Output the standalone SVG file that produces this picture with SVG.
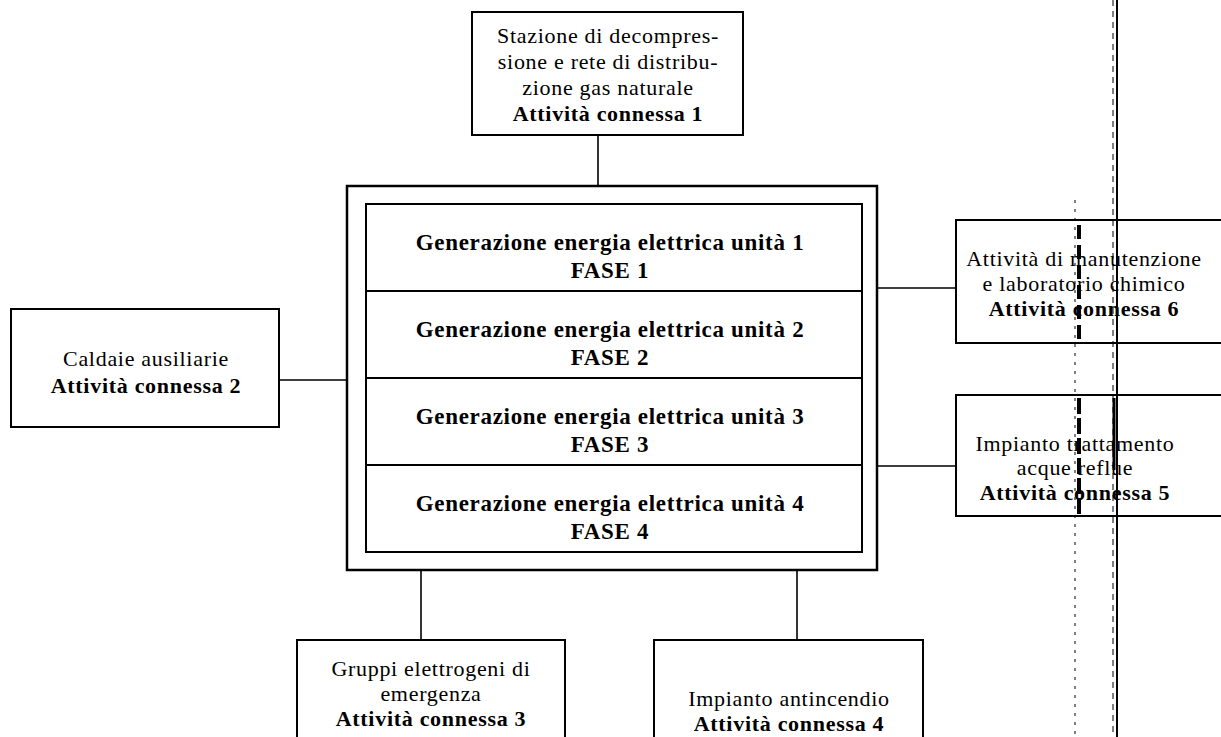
<svg xmlns="http://www.w3.org/2000/svg" width="1221" height="737" viewBox="0 0 1221 737">
<style>
.box{fill:#fff;stroke:#000;stroke-width:2}
.outer{fill:#fff;stroke:#000;stroke-width:2.5}
.conn{stroke:#000;stroke-width:1.6;fill:none}
.t{font-family:"Liberation Serif","Times New Roman","DejaVu Serif",serif;font-size:22px;letter-spacing:0.7px;fill:#000;text-anchor:middle}
.b{font-weight:bold}
.big{font-size:23px;font-weight:bold}
.art{stroke:#000;fill:none}
</style>
<rect width="1221" height="737" fill="#fff"/>
<g id="connectors">
<line class="conn" x1="598" y1="135" x2="598" y2="186"/>
<line class="conn" x1="279" y1="380" x2="347" y2="380"/>
<line class="conn" x1="877" y1="288" x2="956" y2="288"/>
<line class="conn" x1="877" y1="466" x2="956" y2="466"/>
<line class="conn" x1="421" y1="570" x2="421" y2="640"/>
<line class="conn" x1="797" y1="570" x2="797" y2="640"/>
</g>
<g id="node-1">
<rect class="box" x="472" y="12" width="271" height="123"/>
<text class="t" x="608" y="43">Stazione di decompres-</text>
<text class="t" x="608" y="69">sione e rete di distribu-</text>
<text class="t" x="608" y="95">zione gas naturale</text>
<text class="t b" x="608" y="121">Attività connessa 1</text>
</g>
<g id="central">
<rect class="outer" x="347" y="186" width="530" height="384"/>
<g id="fase-1">
<rect class="box" x="366" y="204" width="496" height="87"/>
<text class="t big" x="610" y="250">Generazione energia elettrica unità 1</text>
<text class="t big" x="610" y="278">FASE 1</text>
</g>
<g id="fase-2">
<rect class="box" x="366" y="291" width="496" height="87"/>
<text class="t big" x="610" y="337">Generazione energia elettrica unità 2</text>
<text class="t big" x="610" y="365">FASE 2</text>
</g>
<g id="fase-3">
<rect class="box" x="366" y="378" width="496" height="87"/>
<text class="t big" x="610" y="424">Generazione energia elettrica unità 3</text>
<text class="t big" x="610" y="452">FASE 3</text>
</g>
<g id="fase-4">
<rect class="box" x="366" y="465" width="496" height="87"/>
<text class="t big" x="610" y="511">Generazione energia elettrica unità 4</text>
<text class="t big" x="610" y="539">FASE 4</text>
</g>
</g>
<g id="node-2">
<rect class="box" x="11" y="309" width="268" height="118"/>
<text class="t" x="146" y="366">Caldaie ausiliarie</text>
<text class="t b" x="146" y="393">Attività connessa 2</text>
</g>
<g id="node-6">
<rect class="box" x="956" y="220" width="280" height="123"/>
<text class="t" x="1084" y="266">Attività di manutenzione</text>
<text class="t" x="1084" y="291">e laboratorio chimico</text>
<text class="t b" x="1084" y="316">Attività connessa 6</text>
</g>
<g id="node-5">
<rect class="box" x="956" y="395" width="280" height="121"/>
<text class="t" x="1075" y="451">Impianto trattamento</text>
<text class="t" x="1075" y="475">acque reflue</text>
<text class="t b" x="1075" y="500">Attività connessa 5</text>
</g>
<g id="node-3">
<rect class="box" x="297" y="640" width="268" height="110"/>
<text class="t" x="431" y="676">Gruppi elettrogeni di</text>
<text class="t" x="431" y="701">emergenza</text>
<text class="t b" x="431" y="726">Attività connessa 3</text>
</g>
<g id="node-4">
<rect class="box" x="654" y="640" width="269" height="110"/>
<text class="t" x="789" y="706">Impianto antincendio</text>
<text class="t b" x="789" y="731">Attività connessa 4</text>
</g>
<g id="scan-artifacts">
<line class="art" x1="1117" y1="0" x2="1117" y2="737" stroke-width="2"/>
<line class="art" x1="1113" y1="0" x2="1113" y2="737" stroke-width="1" stroke-dasharray="6 5"/>
<line class="art" x1="1075" y1="200" x2="1075" y2="737" stroke-width="1" stroke-dasharray="3 6"/>
<line class="art" x1="1079" y1="225" x2="1079" y2="340" stroke-width="4" stroke-dasharray="14 6"/>
<line class="art" x1="1079" y1="398" x2="1079" y2="515" stroke-width="4" stroke-dasharray="16 4"/>
<line class="art" x1="1114" y1="398" x2="1114" y2="470" stroke-width="3"/>
</g>
</svg>
